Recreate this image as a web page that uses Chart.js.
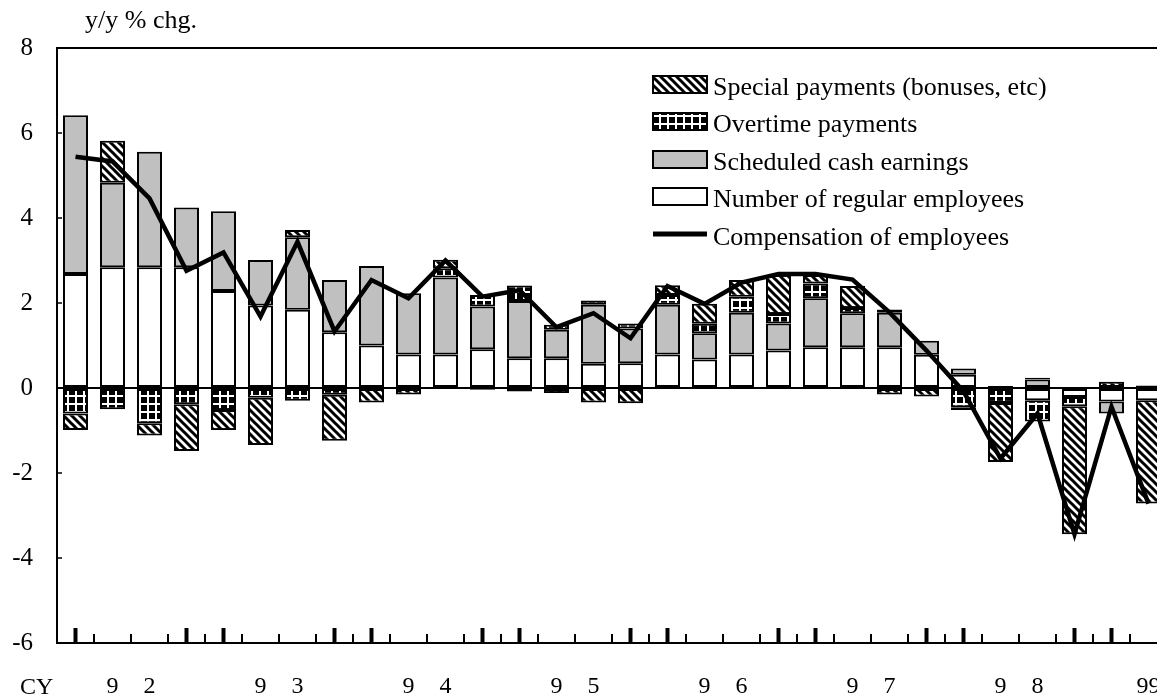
<!DOCTYPE html>
<html><head><meta charset="utf-8">
<script src="https://cdn.jsdelivr.net/npm/chart.js@4.4.1/dist/chart.umd.min.js"></script>
<style>html,body{margin:0;padding:0;overflow:hidden;background:#fff}#wrap{position:absolute;left:0;top:0;width:1168px;height:699px}</style>
</head><body><div id="wrap"><canvas id="c" width="1168" height="699"></canvas></div>
<script>
const categories = ['1992Q1','1992Q2','1992Q3','1992Q4','1993Q1','1993Q2','1993Q3','1993Q4','1994Q1','1994Q2','1994Q3','1994Q4','1995Q1','1995Q2','1995Q3','1995Q4','1996Q1','1996Q2','1996Q3','1996Q4','1997Q1','1997Q2','1997Q3','1997Q4','1998Q1','1998Q2','1998Q3','1998Q4','1999Q1','1999Q2'];
const xTickLabels = ['','9','2','','','9','3','','','9','4','','','9','5','','','9','6','','','9','7','','','9','8','','','99'];
const yTickValues = [-6,-4,-2,0,2,4,6,8];
const employees = [2.68,2.84,2.84,2.84,2.28,1.94,1.84,1.31,1.00,0.79,0.79,0.91,0.70,0.70,0.57,0.58,0.79,0.67,0.79,0.88,0.96,0.96,0.96,0.78,0.31,0.05,-0.29,-0.21,-0.32,-0.29];
const scheduled = [3.74,1.99,2.72,1.41,1.88,1.07,1.71,1.23,1.87,1.44,1.81,1.01,1.35,0.67,1.39,0.82,1.17,0.62,0.98,0.64,1.15,0.80,0.81,0.33,0.15,0.00,0.20,0.00,-0.28,0.00];
const overtime = [-0.60,-0.50,-0.83,-0.38,-0.52,-0.23,-0.30,-0.16,0.00,0.00,0.22,0.27,0.36,0.12,0.10,0.12,0.23,0.22,0.38,0.22,0.35,0.12,0.08,0.00,-0.45,-0.35,-0.50,-0.22,0.00,0.06];
const special = [-0.39,0.99,-0.29,-1.10,-0.47,-1.11,0.17,-1.08,-0.34,-0.15,0.20,-0.04,-0.08,-0.12,-0.34,-0.36,0.23,0.47,0.39,0.92,0.20,0.52,-0.15,-0.20,-0.07,-1.39,0.04,-3.01,0.15,-2.43];
const compensation = [5.44,5.33,4.46,2.76,3.19,1.68,3.44,1.33,2.54,2.11,3.00,2.15,2.30,1.43,1.76,1.17,2.40,1.98,2.48,2.68,2.68,2.55,1.78,0.88,-0.08,-1.66,-0.60,-3.44,-0.44,-2.72];
const seriesNames = ['Special payments (bonuses, etc)','Overtime payments','Scheduled cash earnings','Number of regular employees','Compensation of employees'];
const axisTitle = 'y/y % chg.';
const cyLabel = 'CY';
const thickTickIdx = [0,3,4,7,8,11,12,15,16,19,20,23,24,27,28];

const FONT = '"Liberation Serif","Times New Roman",serif';

function stripePattern(){
  const c=document.createElement('canvas');c.width=8;c.height=8;const g=c.getContext('2d');
  g.fillStyle='#fff';g.fillRect(0,0,8,8);
  g.strokeStyle='#000';g.lineWidth=3;
  g.beginPath();
  g.moveTo(-4,-4);g.lineTo(12,12);
  g.moveTo(-12,-4);g.lineTo(4,12);
  g.moveTo(4,-4);g.lineTo(20,12);
  g.stroke();
  return g.createPattern(c,'repeat');
}
function gridPattern(){
  const c=document.createElement('canvas');c.width=8;c.height=8;const g=c.getContext('2d');
  g.fillStyle='#000';g.fillRect(0,0,8,8);
  g.fillStyle='#fff';g.fillRect(3,0,2,8);g.fillRect(0,3,8,2);
  return g.createPattern(c,'repeat');
}
const pStripe=stripePattern(), pGrid=gridPattern();
const GREY='#c0c0c0';

const decor={
  id:'decor',
  afterDraw(chart){
    const ctx=chart.ctx, a=chart.chartArea, xs=chart.scales.x, ys=chart.scales.y;
    ctx.save();
    ctx.strokeStyle='#000';ctx.fillStyle='#000';
    ctx.lineWidth=2;ctx.beginPath();ctx.moveTo(a.left,a.top);ctx.lineTo(chart.width,a.top);ctx.stroke();
    ctx.lineWidth=1.5;
    yTickValues.forEach(v=>{const y=ys.getPixelForValue(v);ctx.beginPath();ctx.moveTo(a.left,y);ctx.lineTo(a.left+5,y);ctx.stroke();});
    const step=xs.getPixelForValue(1)-xs.getPixelForValue(0);
    ctx.lineWidth=2;
    for(let i=0;i<categories.length-1;i++){const x=Math.round(xs.getPixelForValue(i)+step/2);ctx.beginPath();ctx.moveTo(x,a.bottom);ctx.lineTo(x,a.bottom-9);ctx.stroke();}
    ctx.lineWidth=4;
    thickTickIdx.forEach(i=>{const x=xs.getPixelForValue(i);ctx.beginPath();ctx.moveTo(x,a.bottom);ctx.lineTo(x,a.bottom-15);ctx.stroke();});
    ctx.font='26px '+FONT;ctx.textAlign='left';ctx.textBaseline='alphabetic';
    ctx.fillText(axisTitle,85,28);
    ctx.font='24px '+FONT;
    ctx.fillText(cyLabel,20,694);
    const bx=653,bw=54,bh=17,tx=713;
    const rows=[{f:pStripe},{f:pGrid},{f:GREY},{f:'#fff'},{line:true}];
    const base=[95,132,170,207,245];
    ctx.font='26px '+FONT;
    rows.forEach((r,i)=>{
      const b=base[i];
      if(r.line){ctx.lineWidth=5;ctx.beginPath();ctx.moveTo(bx,b-11);ctx.lineTo(bx+bw,b-11);ctx.stroke();}
      else{const top=b-19;ctx.fillStyle=r.f;ctx.fillRect(bx,top,bw,bh);ctx.lineWidth=2;ctx.strokeStyle='#000';ctx.strokeRect(bx,top,bw,bh);}
      ctx.fillStyle='#000';ctx.fillText(seriesNames[i],tx,b);
    });
    ctx.restore();
  }
};

const barCommon={borderColor:'#000',borderWidth:2,borderSkipped:false,barPercentage:0.676,categoryPercentage:1,stack:'s',order:1};
new Chart(document.getElementById('c'),{
  data:{labels:categories,datasets:[
    Object.assign({type:'bar',label:seriesNames[3],data:employees,backgroundColor:'#fff'},barCommon),
    Object.assign({type:'bar',label:seriesNames[2],data:scheduled,backgroundColor:GREY},barCommon),
    Object.assign({type:'bar',label:seriesNames[1],data:overtime,backgroundColor:pGrid},barCommon),
    Object.assign({type:'bar',label:seriesNames[0],data:special,backgroundColor:pStripe},barCommon),
    {type:'line',label:seriesNames[4],data:compensation,borderColor:'#000',borderWidth:4.5,pointRadius:0,tension:0,stack:'line',order:0,fill:false}
  ]},
  options:{
    responsive:false,animation:false,
    layout:{padding:{left:0,top:48,right:1,bottom:0}},
    plugins:{legend:{display:false},tooltip:{enabled:false},title:{display:false}},
    scales:{
      x:{stacked:true,offset:true,
        grid:{display:false,drawTicks:false},
        border:{display:true,color:'#000',width:2},
        ticks:{autoSkip:false,maxRotation:0,minRotation:0,padding:2,color:'#000',font:{family:FONT,size:24,lineHeight:'84px'},
          callback:(v,i)=>xTickLabels[i]},
        afterFit:s=>{s.height=56;}
      },
      y:{stacked:true,min:-6,max:8,
        grid:{drawTicks:false,lineWidth:2,color:c=>c.tick&&c.tick.value===0?'#000':'rgba(0,0,0,0)'},
        border:{display:true,color:'#000',width:2},
        ticks:{stepSize:2,padding:24,color:'#000',font:{family:FONT,size:25}},
        afterFit:s=>{s.width=57;}
      }
    }
  },
  plugins:[decor]
});
</script></body></html>
